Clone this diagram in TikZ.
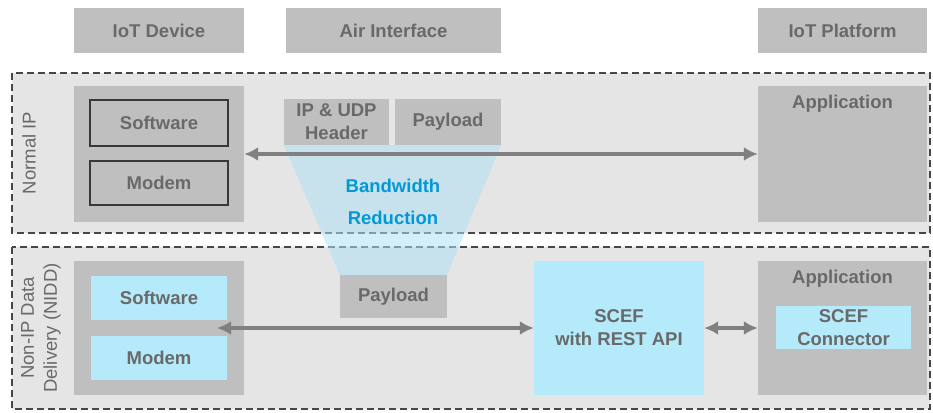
\documentclass[tikz,border=0pt]{standalone}
\usepackage{fontspec}
\setmainfont{Liberation Sans}
\usetikzlibrary{arrows.meta,positioning}
\definecolor{bggray}{RGB}{229,229,229}
\definecolor{boxgray}{RGB}{191,191,191}
\definecolor{txtgray}{RGB}{105,105,105}
\definecolor{linegray}{RGB}{70,70,70}
\definecolor{arrgray}{RGB}{128,128,128}
\definecolor{cyanbox}{RGB}{180,234,250}
\definecolor{bwblue}{RGB}{0,153,214}
\definecolor{trapblue}{RGB}{175,225,245}

\begin{document}
\begin{tikzpicture}[x=1pt,y=-1pt,
	box/.style={fill=boxgray,inner sep=0pt,text=txtgray,align=center,font=\fontsize{18.5}{23}\selectfont\bfseries},
	linebox/.style={box,draw=linegray!80!black,line width=2.2pt},
	cbox/.style={box,fill=cyanbox},
	zone/.style={fill=bggray,draw=linegray,line width=2pt,dash pattern=on 7pt off 4pt},
	side/.style={rotate=90,text=txtgray,align=center,font=\fontsize{18.5}{23}\selectfont},
	arr/.style={draw=arrgray,line width=3.5pt,{Latex[length=14pt,width=14pt]}-{Latex[length=14pt,width=14pt]}}]
	\useasboundingbox (0,0) rectangle (933,412);
	% column titles
	\node[box,minimum width=170,minimum height=45] (dev) at (159,30.5) {IoT Device};
	\node[box,minimum width=215,minimum height=45] (air) at (393.5,30.5) {Air Interface};
	\node[box,minimum width=169,minimum height=45] (plat) at (842.5,30.5) {IoT Platform};
	% the two zones
	\draw[zone] (12,73) rectangle (930,233);
	\draw[zone] (12,247) rectangle (930,409);
	\node[side] (nip) at (29,153) {Normal IP};
	\node[side] (nidd) at (41,328) {Non-IP Data\\Delivery (NIDD)};
	% normal IP
	\node[box,minimum width=170,minimum height=136] (dev1) at (159,154) {};
	\node[linebox,minimum width=138,minimum height=46] (sw1) at (159,123) {Software};
	\node[linebox,minimum width=138,minimum height=44] (mod1) at (159,183) {Modem};
	\node[box,minimum width=105,minimum height=46] (hdr) at (336.5,122) {IP \& UDP\\Header};
	\node[box,minimum width=106,minimum height=46] (pl1) at (448,122) {Payload};
	\node[box,minimum width=169,minimum height=136] (app1) at (842.5,154) {};
	\node[box] (apptxt1) at (842.5,104) {Application};
	% NIDD
	\node[box,minimum width=170,minimum height=134] (dev2) at (159,328) {};
	\node[cbox,minimum width=136,minimum height=44] (sw2) at (159,298) {Software};
	\node[cbox,minimum width=136,minimum height=44] (mod2) at (159,358) {Modem};
	\node[box,minimum width=107,minimum height=43] (pl2) at (393.5,296.5) {Payload};
	\node[cbox,minimum width=170,minimum height=134] (scef) at (619,328) {SCEF\\with REST API};
	\node[box,minimum width=169,minimum height=134] (app2) at (842.5,328) {};
	\node[box] (apptxt2) at (842.5,279) {Application};
	\node[cbox,minimum width=135,minimum height=43] (conn) at (843.5,327.5) {SCEF\\Connector};
	% bandwidth reduction
	\fill[trapblue,opacity=.55] (hdr.south west) -- (pl1.south east) -- (pl2.north east) -- (pl2.north west) -- cycle;
	\node[box,fill=none,text=bwblue,font=\fontsize{18.5}{32}\selectfont\bfseries] (bw) at (393,202) {Bandwidth\\Reduction};
	\coordinate (gap) at (217,328);
	\draw[arr] (dev1) -- (app1);
	\draw[arr] (gap) -- (scef);
	\draw[arr] (scef) -- (app2);
\end{tikzpicture}
\end{document}
